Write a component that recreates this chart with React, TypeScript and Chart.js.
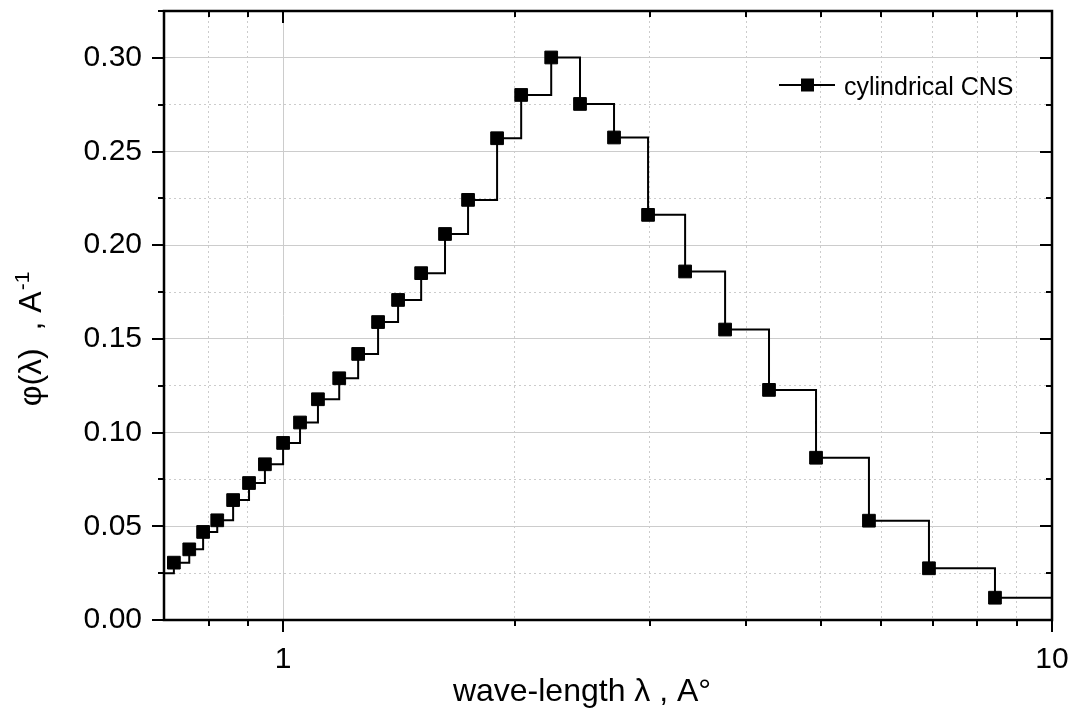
import React, { useEffect, useRef } from 'react';
import { Chart, registerables } from 'chart.js';

Chart.register(...registerables);

// ---- data ----
const wavelength = [
  0.68, 0.721, 0.755, 0.787, 0.821, 0.861, 0.903, 0.947, 1.0, 1.052, 1.11, 1.183, 1.252,
  1.329, 1.411, 1.512, 1.624, 1.74, 1.898, 2.04, 2.232, 2.433, 2.694, 2.983, 3.333, 3.757,
  4.285, 4.933, 5.78, 6.918, 8.43, 10.5,
];
const phi = [
  0.025, 0.0306, 0.0377, 0.047, 0.0532, 0.064, 0.0731, 0.0831, 0.0945, 0.1054, 0.1178, 0.129,
  0.142, 0.159, 0.1708, 0.1851, 0.206, 0.2242, 0.2571, 0.2802, 0.3002, 0.2754, 0.2575, 0.2162,
  0.186, 0.155, 0.1228, 0.0866, 0.053, 0.0276, 0.0119, 0.0119,
];
// the first and last entries only continue the step line beyond the frame (no marker)
const hasMarker = phi.map((_, i) => i !== 0 && i !== phi.length - 1);

const xTickValues = [0.7, 0.8, 0.9, 1, 2, 3, 4, 5, 6, 7, 8, 9, 10];
const xMajorValues = [1, 10];
const yTickValues = [0, 0.025, 0.05, 0.075, 0.1, 0.125, 0.15, 0.175, 0.2, 0.225, 0.25, 0.275, 0.3, 0.325];
const yTickLabels = ['0.00', '0.05', '0.10', '0.15', '0.20', '0.25', '0.30'];
const xMin = 0.7;
const xMax = 10;
const yMin = 0;
const yMax = 0.325;

const seriesLabel = 'cylindrical CNS';
const xTitle = 'wave-length λ , A°';
const yTitleMain = 'φ(λ)  , A';
const yTitleSup = '-1';

const FONT = '"Liberation Sans", Arial, Helvetica, sans-serif';
const GRID = '#cccccc';

const isMajorY = (v: number) => Math.abs(Math.round(v / 0.05) * 0.05 - v) < 1e-9;
const isMajorX = (v: number) => xMajorValues.some((m) => Math.abs(m - v) < 1e-9);

const yLabelFor = (v: number) => {
  if (!isMajorY(v)) return '';
  const idx = Math.round(v / 0.05);
  return yTickLabels[idx] ?? '';
};

const framePlugin = {
  id: 'frameTicksTitles',
  afterDatasetsDraw(chart: any) {
    const { ctx, chartArea } = chart;
    const { left, right, top, bottom } = chartArea;
    const xs = chart.scales.x;
    const ys = chart.scales.y;
    ctx.save();
    ctx.strokeStyle = '#000';
    ctx.lineCap = 'butt';

    // ticks
    ctx.lineWidth = 2;
    ctx.beginPath();
    xTickValues.forEach((v) => {
      if (v <= xMin + 1e-9) return;
      const px = Math.round(xs.getPixelForValue(v));
      const len = isMajorX(v) ? 12 : 6;
      ctx.moveTo(px, bottom);
      ctx.lineTo(px, bottom + len);
      ctx.moveTo(px, top);
      ctx.lineTo(px, top + len);
    });
    yTickValues.forEach((v) => {
      const py = Math.round(ys.getPixelForValue(v));
      const len = isMajorY(v) ? 12 : 6;
      ctx.moveTo(left, py);
      ctx.lineTo(left - len, py);
      ctx.moveTo(right, py);
      ctx.lineTo(right - len, py);
    });
    ctx.stroke();

    // frame
    ctx.lineWidth = 2.5;
    ctx.strokeRect(left, top, right - left, bottom - top);

    // legend
    const ly = 85;
    ctx.lineWidth = 2;
    ctx.beginPath();
    ctx.moveTo(779, ly);
    ctx.lineTo(835, ly);
    ctx.stroke();
    ctx.fillStyle = '#000';
    ctx.fillRect(801, ly - 6.5, 13, 13);
    ctx.font = `25px ${FONT}`;
    ctx.textAlign = 'left';
    ctx.textBaseline = 'alphabetic';
    ctx.fillText(seriesLabel, 844, 95);

    // x title
    ctx.font = `32px ${FONT}`;
    ctx.textAlign = 'center';
    ctx.fillText(xTitle, 582, 701);

    // y title (rotated, with superscript)
    const mainFont = `32px ${FONT}`;
    const supFont = `21px ${FONT}`;
    ctx.font = mainFont;
    const wMain = ctx.measureText(yTitleMain).width;
    ctx.font = supFont;
    const wSup = ctx.measureText(yTitleSup).width;
    const total = wMain + wSup + 1;
    ctx.translate(41, 339);
    ctx.rotate(-Math.PI / 2);
    ctx.textAlign = 'left';
    ctx.font = mainFont;
    ctx.fillText(yTitleMain, -total / 2, 0);
    ctx.font = supFont;
    ctx.fillText(yTitleSup, -total / 2 + wMain + 1, -12);
    ctx.restore();
  },
};

export default function App() {
  const ref = useRef<HTMLCanvasElement>(null);

  useEffect(() => {
    if (!ref.current) return;
    const data = wavelength.map((x, i) => ({ x, y: phi[i] }));
    const chart = new Chart(ref.current, {
      type: 'line',
      data: {
        datasets: [
          {
            label: seriesLabel,
            data,
            stepped: true,
            borderColor: '#000',
            borderWidth: 2,
            backgroundColor: '#000',
            pointStyle: 'rect',
            pointRadius: hasMarker.map((m) => (m ? 9 : 0)),
            pointBorderWidth: 1,
            pointBorderColor: '#000',
            pointBackgroundColor: '#000',
            fill: false,
            tension: 0,
            clip: 0,
          } as any,
        ],
      },
      options: {
        responsive: false,
        animation: false,
        devicePixelRatio: 1,
        layout: { padding: { top: 11, right: 28, left: 0, bottom: 0 } },
        plugins: {
          legend: { display: false },
          tooltip: { enabled: false },
        },
        events: [],
        scales: {
          x: {
            type: 'logarithmic',
            min: xMin,
            max: xMax,
            afterBuildTicks: (s: any) => {
              s.ticks = xTickValues.map((v) => ({ value: v }));
            },
            afterFit: (s: any) => {
              s.height = 99;
              s.paddingLeft = 0;
              s.paddingRight = 0;
            },
            grid: {
              drawTicks: false,
              lineWidth: 1,
              color: (c: any) =>
                c.tick && c.tick.value <= xMin + 1e-9 ? 'rgba(0,0,0,0)' : GRID,
            },
            border: {
              display: false,
              dash: (c: any) => (c.tick && isMajorX(c.tick.value) ? [] : [2, 3]),
            },
            ticks: {
              autoSkip: false,
              maxRotation: 0,
              minRotation: 0,
              padding: 22,
              color: '#000',
              font: { family: FONT, size: 30 },
              callback: (v: any) => (isMajorX(Number(v)) ? String(Number(v)) : ''),
            },
          },
          y: {
            type: 'linear',
            min: yMin,
            max: yMax,
            afterBuildTicks: (s: any) => {
              s.ticks = yTickValues.map((v) => ({ value: v }));
            },
            afterFit: (s: any) => {
              s.width = 164;
              s.paddingTop = 0;
              s.paddingBottom = 0;
            },
            grid: {
              drawTicks: false,
              lineWidth: 1,
              color: GRID,
            },
            border: {
              display: false,
              dash: (c: any) => (c.tick && isMajorY(c.tick.value) ? [] : [2, 3]),
            },
            ticks: {
              autoSkip: false,
              padding: 22,
              color: '#000',
              font: { family: FONT, size: 30 },
              callback: (v: any) => yLabelFor(Number(v)),
            },
          },
        },
      } as any,
      plugins: [framePlugin],
    });
    return () => chart.destroy();
  }, []);

  return (
    <div
      style={{
        position: 'absolute',
        left: 0,
        top: 0,
        width: 1080,
        height: 719,
        background: '#fff',
      }}
    >
      <canvas ref={ref} width={1080} height={719} style={{ display: 'block' }} />
    </div>
  );
}
